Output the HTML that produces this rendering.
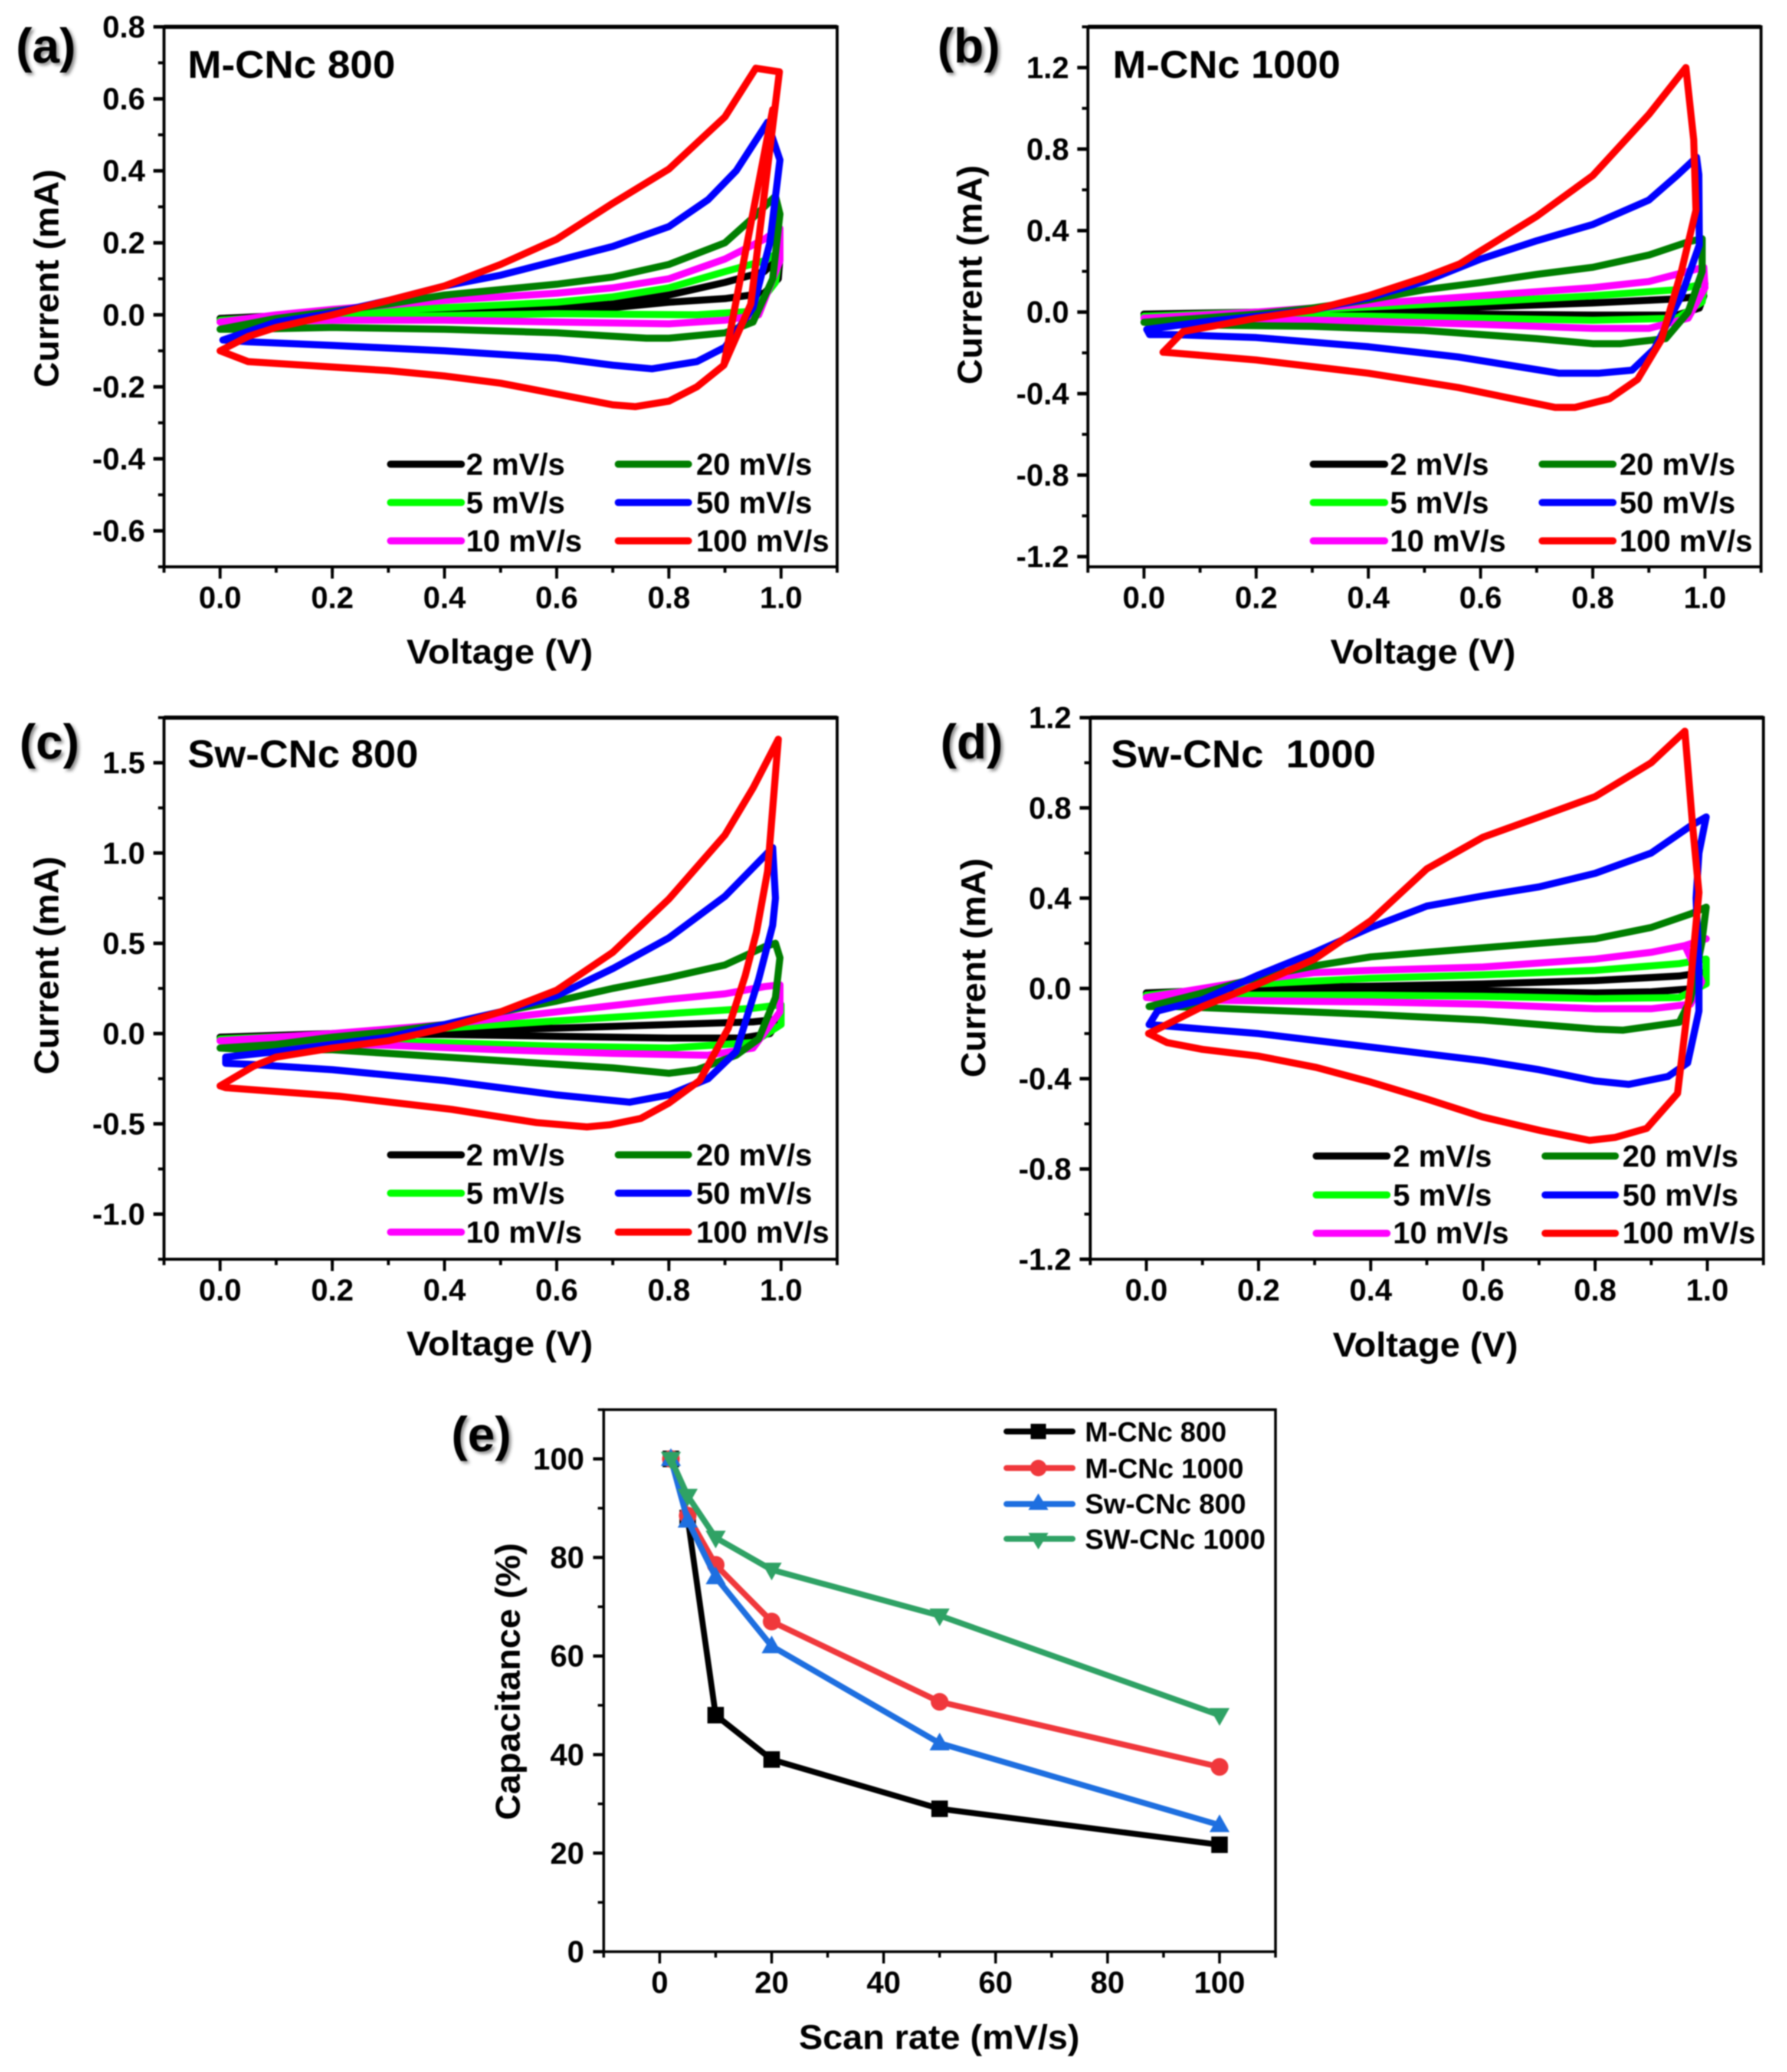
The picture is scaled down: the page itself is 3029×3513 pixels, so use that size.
<!DOCTYPE html>
<html>
<head>
<meta charset="utf-8">
<title>Cyclic voltammetry panels and capacitance retention</title>
<style>
html,body{margin:0;padding:0;background:#fff;}
body{width:3029px;height:3513px;overflow:hidden;}
svg{display:block;filter:blur(1px);}
text{font-family:"Liberation Sans",sans-serif;font-weight:bold;fill:#000;}
.pl{font-size:83px;filter:drop-shadow(4px 4px 3px rgba(0,0,0,.45));}
.pt{font-size:66px;}
.ax{font-size:58px;}
.lg{font-size:52px;}
.le{font-size:47px;}
.tk{font-size:52px;}
</style>
</head>
<body>
<svg id="fig" xmlns="http://www.w3.org/2000/svg" width="3029" height="3513" viewBox="0 0 3029 3513">
<rect x="0" y="0" width="3029" height="3513" fill="#fff"/>

<g id="panel-a">
<text class="pl" x="27" y="106">(a)</text>
<text class="pt" x="318" y="132" textLength="352" lengthAdjust="spacingAndGlyphs">M-CNc 800</text>
<text class="ax" x="689" y="1125" textLength="316" lengthAdjust="spacingAndGlyphs">Voltage (V)</text>
<text class="ax" transform="translate(99 472) rotate(-90)" text-anchor="middle" textLength="370" lengthAdjust="spacingAndGlyphs">Current (mA)</text>
<g>
<line x1="662" x2="782" y1="787" y2="787" stroke="#000" stroke-width="12" stroke-linecap="round"/>
<text class="lg" x="790" y="805">2 mV/s</text>
<line x1="662" x2="782" y1="852" y2="852" stroke="#00ff00" stroke-width="12" stroke-linecap="round"/>
<text class="lg" x="790" y="870">5 mV/s</text>
<line x1="662" x2="782" y1="917" y2="917" stroke="#ff00ff" stroke-width="12" stroke-linecap="round"/>
<text class="lg" x="790" y="935">10 mV/s</text>
<line x1="1048" x2="1167" y1="787" y2="787" stroke="#007f00" stroke-width="12" stroke-linecap="round"/>
<text class="lg" x="1180" y="805">20 mV/s</text>
<line x1="1048" x2="1167" y1="852" y2="852" stroke="#0000ff" stroke-width="12" stroke-linecap="round"/>
<text class="lg" x="1180" y="870">50 mV/s</text>
<line x1="1048" x2="1167" y1="917" y2="917" stroke="#ff0000" stroke-width="12" stroke-linecap="round"/>
<text class="lg" x="1180" y="935">100 mV/s</text>
</g>
</g>

<g id="panel-b">
<text class="pl" x="1589" y="106">(b)</text>
<text class="pt" x="1886" y="132" textLength="386" lengthAdjust="spacingAndGlyphs">M-CNc 1000</text>
<text class="ax" x="2255" y="1125" textLength="314" lengthAdjust="spacingAndGlyphs">Voltage (V)</text>
<text class="ax" transform="translate(1664 466) rotate(-90)" text-anchor="middle" textLength="372" lengthAdjust="spacingAndGlyphs">Current (mA)</text>
<g>
<line x1="2226" x2="2347" y1="787" y2="787" stroke="#000" stroke-width="12" stroke-linecap="round"/>
<text class="lg" x="2356" y="805">2 mV/s</text>
<line x1="2226" x2="2347" y1="852" y2="852" stroke="#00ff00" stroke-width="12" stroke-linecap="round"/>
<text class="lg" x="2356" y="870">5 mV/s</text>
<line x1="2226" x2="2347" y1="917" y2="917" stroke="#ff00ff" stroke-width="12" stroke-linecap="round"/>
<text class="lg" x="2356" y="935">10 mV/s</text>
<line x1="2614" x2="2734" y1="787" y2="787" stroke="#007f00" stroke-width="12" stroke-linecap="round"/>
<text class="lg" x="2745" y="805">20 mV/s</text>
<line x1="2614" x2="2734" y1="852" y2="852" stroke="#0000ff" stroke-width="12" stroke-linecap="round"/>
<text class="lg" x="2745" y="870">50 mV/s</text>
<line x1="2614" x2="2734" y1="917" y2="917" stroke="#ff0000" stroke-width="12" stroke-linecap="round"/>
<text class="lg" x="2745" y="935">100 mV/s</text>
</g>
</g>

<g id="panel-c">
<text class="pl" x="33" y="1286">(c)</text>
<text class="pt" x="318" y="1301" textLength="391" lengthAdjust="spacingAndGlyphs">Sw-CNc 800</text>
<text class="ax" x="689" y="2298" textLength="316" lengthAdjust="spacingAndGlyphs">Voltage (V)</text>
<text class="ax" transform="translate(99 1637) rotate(-90)" text-anchor="middle" textLength="370" lengthAdjust="spacingAndGlyphs">Current (mA)</text>
<g>
<line x1="662" x2="782" y1="1958" y2="1958" stroke="#000" stroke-width="12" stroke-linecap="round"/>
<text class="lg" x="790" y="1976">2 mV/s</text>
<line x1="662" x2="782" y1="2023" y2="2023" stroke="#00ff00" stroke-width="12" stroke-linecap="round"/>
<text class="lg" x="790" y="2041">5 mV/s</text>
<line x1="662" x2="782" y1="2089" y2="2089" stroke="#ff00ff" stroke-width="12" stroke-linecap="round"/>
<text class="lg" x="790" y="2107">10 mV/s</text>
<line x1="1048" x2="1167" y1="1958" y2="1958" stroke="#007f00" stroke-width="12" stroke-linecap="round"/>
<text class="lg" x="1180" y="1976">20 mV/s</text>
<line x1="1048" x2="1167" y1="2023" y2="2023" stroke="#0000ff" stroke-width="12" stroke-linecap="round"/>
<text class="lg" x="1180" y="2041">50 mV/s</text>
<line x1="1048" x2="1167" y1="2089" y2="2089" stroke="#ff0000" stroke-width="12" stroke-linecap="round"/>
<text class="lg" x="1180" y="2107">100 mV/s</text>
</g>
</g>

<g id="panel-d">
<text class="pl" x="1594" y="1286">(d)</text>
<text class="pt" x="1883" y="1301" textLength="449" lengthAdjust="spacingAndGlyphs" xml:space="preserve">Sw-CNc  1000</text>
<text class="ax" x="2259" y="2300" textLength="314" lengthAdjust="spacingAndGlyphs">Voltage (V)</text>
<text class="ax" transform="translate(1670 1641) rotate(-90)" text-anchor="middle" textLength="372" lengthAdjust="spacingAndGlyphs">Current (mA)</text>
<g>
<line x1="2231" x2="2351" y1="1960" y2="1960" stroke="#000" stroke-width="12" stroke-linecap="round"/>
<text class="lg" x="2361" y="1978">2 mV/s</text>
<line x1="2231" x2="2351" y1="2026" y2="2026" stroke="#00ff00" stroke-width="12" stroke-linecap="round"/>
<text class="lg" x="2361" y="2044">5 mV/s</text>
<line x1="2231" x2="2351" y1="2091" y2="2091" stroke="#ff00ff" stroke-width="12" stroke-linecap="round"/>
<text class="lg" x="2361" y="2108">10 mV/s</text>
<line x1="2619" x2="2738" y1="1960" y2="1960" stroke="#007f00" stroke-width="12" stroke-linecap="round"/>
<text class="lg" x="2750" y="1978">20 mV/s</text>
<line x1="2619" x2="2738" y1="2026" y2="2026" stroke="#0000ff" stroke-width="12" stroke-linecap="round"/>
<text class="lg" x="2750" y="2044">50 mV/s</text>
<line x1="2619" x2="2738" y1="2091" y2="2091" stroke="#ff0000" stroke-width="12" stroke-linecap="round"/>
<text class="lg" x="2750" y="2108">100 mV/s</text>
</g>
</g>

<g id="panel-e">
<text class="pl" x="765" y="2460">(e)</text>
<text class="ax" x="1354" y="3474" textLength="476" lengthAdjust="spacingAndGlyphs">Scan rate (mV/s)</text>
<text class="ax" transform="translate(881 2851) rotate(-90)" text-anchor="middle" textLength="470" lengthAdjust="spacingAndGlyphs">Capacitance (%)</text>
</g>
<g id="panel-e-legend">
<line x1="1706" x2="1818" y1="2427" y2="2427" stroke="#000" stroke-width="10" stroke-linecap="round"/>
<rect x="1747" y="2414" width="26" height="26" fill="#000"/>
<text class="le" x="1839" y="2444" textLength="240" lengthAdjust="spacingAndGlyphs">M-CNc 800</text>
<line x1="1706" x2="1818" y1="2489" y2="2489" stroke="#f0383c" stroke-width="10" stroke-linecap="round"/>
<circle cx="1760" cy="2489" r="14" fill="#f0383c"/>
<text class="le" x="1839" y="2506" textLength="269" lengthAdjust="spacingAndGlyphs">M-CNc 1000</text>
<line x1="1706" x2="1818" y1="2550" y2="2550" stroke="#1e6fe0" stroke-width="10" stroke-linecap="round"/>
<polygon points="1760,2532 1777,2560 1743,2560" fill="#1e6fe0"/>
<text class="le" x="1839" y="2566" textLength="273" lengthAdjust="spacingAndGlyphs">Sw-CNc 800</text>
<line x1="1706" x2="1818" y1="2609" y2="2609" stroke="#2fa265" stroke-width="10" stroke-linecap="round"/>
<polygon points="1743,2599 1777,2599 1760,2627" fill="#2fa265"/>
<text class="le" x="1839" y="2626" textLength="306" lengthAdjust="spacingAndGlyphs">SW-CNc 1000</text>
</g>
</svg>

<script>
// ---------- chart data: [voltage (V), current (mA)] loops ----------
const a2   = [[0,-.01],[.2,.003],[.4,.01],[.6,.02],[.7,.03],[.8,.055],[.9,.09],[.97,.12],[.998,.16],[.995,.1],[.97,.06],[.9,.045],[.8,.035],[.7,.02],[.5,.012],[.3,.005],[.1,-.003],[0,-.01]];
const a5   = [[0,-.015],[.2,.005],[.4,.02],[.6,.035],[.7,.05],[.8,.075],[.9,.12],[.97,.15],[.998,.175],[.99,.09],[.95,.01],[.85,0],[.6,.003],[.4,-.002],[.2,-.008],[0,-.015]];
const a10  = [[0,-.02],[.1,0],[.2,.015],[.4,.04],[.6,.06],[.7,.075],[.8,.1],[.9,.155],[.97,.21],[.998,.24],[.998,.15],[.96,0],[.9,-.015],[.8,-.025],[.6,-.02],[.4,-.015],[.2,-.015],[.05,-.02],[0,-.02]];
const a20  = [[0,-.04],[.1,-.01],[.2,.01],[.3,.03],[.4,.055],[.5,.07],[.6,.085],[.7,.105],[.8,.14],[.9,.2],[.95,.27],[.99,.33],[.998,.28],[.985,.1],[.95,-.02],[.9,-.05],[.8,-.065],[.76,-.065],[.6,-.05],[.4,-.04],[.2,-.035],[.05,-.04],[0,-.04]];
const a50  = [[.005,-.07],[.1,-.02],[.2,.005],[.3,.04],[.4,.08],[.5,.11],[.6,.15],[.7,.19],[.8,.245],[.87,.32],[.92,.4],[.976,.535],[.985,.49],[.998,.43],[.98,.2],[.95,.02],[.9,-.09],[.85,-.13],[.77,-.15],[.7,-.14],[.6,-.12],[.4,-.1],[.2,-.085],[.05,-.075],[.005,-.07]];
const a100 = [[0,-.1],[.05,-.06],[.1,-.035],[.2,0],[.3,.04],[.4,.08],[.5,.14],[.6,.21],[.7,.31],[.8,.405],[.9,.55],[.955,.685],[.997,.675],[.946,.03],[.898,-.14],[.985,.57],[.898,-.14],[.85,-.2],[.8,-.24],[.74,-.255],[.7,-.25],[.6,-.22],[.5,-.19],[.4,-.17],[.3,-.155],[.2,-.145],[.05,-.13],[0,-.1]];

const b2   = [[0,-.01],[.2,0],[.4,.01],[.6,.025],[.8,.045],[.95,.065],[.998,.08],[.99,.02],[.95,-.015],[.8,-.015],[.6,-.01],[.4,-.005],[.2,0],[0,-.01]];
const b5   = [[0,-.02],[.2,0],[.4,.025],[.6,.05],[.8,.08],[.95,.11],[1,.14],[.995,.05],[.95,-.03],[.8,-.04],[.6,-.03],[.4,-.02],[.2,-.015],[0,-.02]];
const b10  = [[0,-.03],[.2,0],[.4,.04],[.6,.08],[.8,.12],[.9,.15],[.97,.2],[.998,.22],[1,.12],[.97,-.03],[.9,-.08],[.8,-.08],[.6,-.06],[.4,-.045],[.2,-.035],[0,-.03]];
const b20  = [[0,-.05],[.1,-.03],[.2,-.01],[.3,.02],[.4,.06],[.5,.11],[.6,.145],[.7,.185],[.8,.22],[.9,.28],[.97,.345],[.995,.36],[.995,.2],[.97,0],[.93,-.13],[.85,-.155],[.8,-.155],[.7,-.13],[.5,-.09],[.3,-.07],[.15,-.065],[.05,-.06],[0,-.05]];
const b50  = [[.005,-.085],[.1,-.05],[.2,-.02],[.3,.01],[.4,.07],[.5,.15],[.6,.26],[.7,.35],[.8,.43],[.9,.55],[.95,.67],[.985,.76],[.989,.675],[.99,.33],[.958,.08],[.91,-.18],[.87,-.285],[.81,-.3],[.74,-.3],[.56,-.22],[.4,-.17],[.2,-.125],[.05,-.11],[.01,-.11],[.005,-.085]];
const b100 = [[.034,-.197],[.07,-.095],[.2,-.03],[.3,.01],[.4,.08],[.5,.17],[.563,.237],[.6,.3],[.7,.47],[.8,.67],[.9,.97],[.966,1.2],[.98,.845],[.984,.5],[.958,.2],[.922,-.137],[.88,-.33],[.83,-.425],[.768,-.468],[.733,-.468],[.56,-.37],[.4,-.3],[.2,-.235],[.05,-.2],[.034,-.197]];

const c2   = [[0,-.02],[.2,0],[.4,.015],[.6,.03],[.8,.05],[.95,.065],[.998,.08],[.98,0],[.93,-.025],[.8,-.025],[.6,-.015],[.4,-.005],[.2,-.005],[0,-.02]];
const c5   = [[0,-.03],[.2,-.005],[.4,.03],[.6,.07],[.8,.11],[.95,.14],[1,.16],[1,.05],[.95,-.05],[.8,-.08],[.6,-.07],[.4,-.05],[.2,-.035],[0,-.03]];
const c10  = [[0,-.04],[.2,0],[.4,.05],[.6,.12],[.8,.19],[.9,.22],[.97,.26],[.998,.27],[.998,.12],[.95,-.08],[.87,-.12],[.7,-.11],[.5,-.09],[.3,-.065],[.1,-.05],[0,-.04]];
const c20  = [[0,-.08],[.1,-.06],[.2,-.02],[.3,.01],[.4,.05],[.5,.12],[.6,.18],[.7,.25],[.8,.31],[.9,.38],[.97,.48],[.99,.5],[.998,.42],[.99,.2],[.96,-.03],[.92,-.12],[.85,-.2],[.8,-.22],[.7,-.19],[.5,-.15],[.3,-.11],[.2,-.09],[.05,-.09],[0,-.08]];
const c50  = [[.01,-.13],[.1,-.1],[.2,-.06],[.3,-.02],[.4,.05],[.5,.12],[.6,.21],[.7,.36],[.8,.53],[.9,.76],[.985,1.03],[.99,.75],[.985,.6],[.96,.3],[.92,-.1],[.87,-.25],[.8,-.34],[.73,-.38],[.6,-.34],[.4,-.26],[.2,-.2],[.05,-.17],[.01,-.165],[.01,-.13]];
const c100 = [[0,-.29],[.06,-.18],[.1,-.13],[.2,-.08],[.3,-.04],[.4,.03],[.5,.12],[.6,.24],[.7,.45],[.8,.745],[.9,1.1],[.95,1.36],[.995,1.63],[.976,.9],[.956,.56],[.936,.32],[.906,.03],[.855,-.26],[.8,-.385],[.75,-.47],[.695,-.505],[.654,-.517],[.564,-.493],[.413,-.42],[.212,-.347],[.01,-.3],[0,-.29]];

const d2   = [[0,-.02],[.2,0],[.4,.01],[.6,.02],[.8,.035],[.95,.055],[.99,.07],[.98,0],[.9,-.015],[.8,-.02],[.6,-.01],[.4,-.005],[.2,-.01],[0,-.02]];
const d5   = [[0,-.03],[.2,.02],[.4,.045],[.6,.06],[.8,.08],[.95,.11],[.998,.13],[.998,.02],[.95,-.04],[.8,-.045],[.6,-.035],[.4,-.03],[.2,-.03],[0,-.03]];
const d10  = [[0,-.04],[.1,0],[.2,.04],[.3,.07],[.4,.08],[.6,.095],[.8,.13],[.9,.16],[.96,.19],[.998,.22],[.96,.19],[.99,.03],[.97,-.07],[.9,-.09],[.8,-.09],[.6,-.07],[.4,-.06],[.2,-.055],[.05,-.05],[0,-.04]];
const d20  = [[.005,-.08],[.1,-.02],[.2,.05],[.3,.1],[.4,.14],[.5,.16],[.6,.18],[.7,.2],[.8,.22],[.9,.27],[.97,.33],[.998,.36],[.99,.2],[.97,-.05],[.95,-.15],[.85,-.185],[.8,-.18],[.6,-.14],[.4,-.115],[.2,-.095],[.05,-.08],[.005,-.08]];
const d50  = [[.005,-.16],[.02,-.1],[.1,-.05],[.2,.06],[.3,.16],[.4,.27],[.5,.365],[.6,.41],[.7,.45],[.8,.51],[.9,.6],[.97,.72],[.998,.76],[.985,.6],[.98,.4],[.985,.1],[.985,-.1],[.965,-.33],[.93,-.39],[.86,-.425],[.8,-.41],[.7,-.36],[.6,-.32],[.4,-.26],[.2,-.2],[.1,-.18],[.03,-.165],[.005,-.16]];
const d100 = [[.004,-.2],[.1,-.08],[.2,.02],[.3,.13],[.4,.3],[.5,.53],[.6,.67],[.7,.76],[.8,.85],[.9,1],[.96,1.14],[.974,.716],[.985,.425],[.97,.02],[.947,-.465],[.892,-.62],[.836,-.66],[.79,-.673],[.703,-.63],[.6,-.57],[.5,-.49],[.4,-.415],[.303,-.35],[.2,-.3],[.1,-.27],[.037,-.24],[.004,-.2]];

// capacitance retention
const scanRates = [2,5,10,20,50,100];
const mCnc800   = [100,88,48,39,29,21.7];
const mCnc1000  = [100,88.5,78.5,67,50.7,37.5];
const swCnc800  = [100,87.5,76,62,42.3,25.7];
const swCnc1000 = [100,92.5,84,77.5,68.2,48];

// tick values
const cvXTicks = [0,0.2,0.4,0.6,0.8,1.0];
const aYTicks  = [-0.6,-0.4,-0.2,0,0.2,0.4,0.6,0.8];
const bYTicks  = [-1.2,-0.8,-0.4,0,0.4,0.8,1.2];
const cYTicks  = [-1.0,-0.5,0,0.5,1.0,1.5];
const dYTicks  = [-1.2,-0.8,-0.4,0,0.4,0.8,1.2];
const eXTicks  = [0,20,40,60,80,100];
const eYTicks  = [0,20,40,60,80,100];

// ---------- drawing ----------
const NS = 'http://www.w3.org/2000/svg';
const seriesStyle = [
  {key:'2-mv-s', color:'#000000'},
  {key:'5-mv-s', color:'#00ff00'},
  {key:'10-mv-s', color:'#ff00ff'},
  {key:'20-mv-s', color:'#007f00'},
  {key:'50-mv-s', color:'#0000ff'},
  {key:'100-mv-s', color:'#ff0000'}
];

function make(tag, parent, name){
  const el = document.createElementNS(NS, tag);
  
  
  parent.appendChild(el);
  return el;
}
function scales(p){
  return {
    x: v => p.L + (v - p.xMin) / (p.xMax - p.xMin) * (p.R - p.L),
    y: v => p.B - (v - p.yMin) / (p.yMax - p.yMin) * (p.B - p.T)
  };
}
function tick(parent, name, x1, y1, x2, y2, w){
  const t = make('line', parent, name);
  t.setAttribute('x1', x1); t.setAttribute('y1', y1);
  t.setAttribute('x2', x2); t.setAttribute('y2', y2);
  t.setAttribute('stroke', '#000'); t.setAttribute('stroke-width', w);
}
function drawAxes(p, g){
  const s = scales(p);
  const axes = make('g', g, p.id + '-axes');
  for (let k = Math.ceil(p.xMin / p.xMinor - 1e-6); k <= Math.floor(p.xMax / p.xMinor + 1e-6); k++) {
    const x = s.x(k * p.xMinor);
    tick(axes, 'x-minor-tick', x, p.B, x, p.B + 10, p.tickW);
  }
  for (let k = Math.ceil(p.yMin / p.yMinor - 1e-6); k <= Math.floor(p.yMax / p.yMinor + 1e-6); k++) {
    const y = s.y(k * p.yMinor);
    tick(axes, 'y-minor-tick', p.L - 10, y, p.L, y, p.tickW);
  }
  p.xTicks.forEach(v => {
    const x = s.x(v);
    tick(axes, 'x-major-tick', x, p.B, x, p.B + 20, p.tickW);
    const t = make('text', axes, 'x-tick-label');
    t.setAttribute('class', 'tk');
    t.setAttribute('x', x);
    t.setAttribute('y', p.B + p.xLabelDy);
    t.setAttribute('text-anchor', 'middle');
    t.textContent = v.toFixed(p.xDigits);
  });
  p.yTicks.forEach(v => {
    const y = s.y(v);
    tick(axes, 'y-major-tick', p.L - 18, y, p.L, y, p.tickW + 1);
    const t = make('text', axes, 'y-tick-label');
    t.setAttribute('class', 'tk');
    t.setAttribute('x', p.L - p.yLabelDx);
    t.setAttribute('y', y + 18);
    t.setAttribute('text-anchor', 'end');
    t.textContent = v.toFixed(p.yDigits);
  });
  const frame = make('rect', axes, p.id + '-plot-frame');
  frame.setAttribute('x', p.L); frame.setAttribute('y', p.T);
  frame.setAttribute('width', p.R - p.L); frame.setAttribute('height', p.B - p.T);
  frame.setAttribute('fill', 'none'); frame.setAttribute('stroke', '#000'); frame.setAttribute('stroke-width', p.frameW);
  const top = make('line', axes, p.id + '-plot-frame-top');
  top.setAttribute('x1', p.L); top.setAttribute('x2', p.R);
  top.setAttribute('y1', p.T); top.setAttribute('y2', p.T);
  top.setAttribute('stroke', '#000'); top.setAttribute('stroke-width', p.topW);
}
function drawCV(p){
  const g = document.getElementById(p.id);
  const s = scales(p);
  const marks = make('g', g, p.id + '-curves');
  p.series.forEach((loop, i) => {
    const path = make('polyline', marks, p.id + '-curve-' + seriesStyle[i].key);
    path.setAttribute('points', loop.map(d => s.x(d[0]).toFixed(1) + ',' + s.y(d[1]).toFixed(1)).join(' '));
    path.setAttribute('fill', 'none');
    path.setAttribute('stroke', seriesStyle[i].color);
    path.setAttribute('stroke-width', 12);
    path.setAttribute('stroke-linejoin', 'round');
    path.setAttribute('stroke-linecap', 'round');
  });
  drawAxes(p, g);
}

const cvBase = {xMin:-0.1, xMax:1.1, xMinor:0.1, xTicks:cvXTicks, xDigits:1, yDigits:1, xLabelDy:70, yLabelDx:32, tickW:5, frameW:5, topW:7};
drawCV(Object.assign({}, cvBase, {id:'panel-a', L:278, R:1419, T:45.5, B:961, yMin:-0.7, yMax:0.8, yMinor:0.1, yTicks:aYTicks, series:[a2,a5,a10,a20,a50,a100]}));
drawCV(Object.assign({}, cvBase, {id:'panel-b', L:1844, R:2985, T:45.5, B:961, yMin:-1.25, yMax:1.4, yMinor:0.2, yTicks:bYTicks, series:[b2,b5,b10,b20,b50,b100]}));
drawCV(Object.assign({}, cvBase, {id:'panel-c', L:278, R:1419, T:1216.7, B:2135, yMin:-1.25, yMax:1.75, yMinor:0.25, yTicks:cYTicks, series:[c2,c5,c10,c20,c50,c100]}));
drawCV(Object.assign({}, cvBase, {id:'panel-d', L:1848, R:2989, T:1216.7, B:2135, yMin:-1.2, yMax:1.2, yMinor:0.2, yTicks:dYTicks, series:[d2,d5,d10,d20,d50,d100]}));

// panel e
(function(){
  const p = {id:'panel-e', L:1023.3, R:2162, T:2390, B:3309, xMin:-10, xMax:110, xMinor:10, yMin:0, yMax:110, yMinor:10,
             xTicks:eXTicks, yTicks:eYTicks, xDigits:0, yDigits:0, xLabelDy:70, yLabelDx:33, tickW:4.5, frameW:4.5, topW:4};
  const g = document.getElementById(p.id);
  const s = scales(p);
  drawAxes(p, g);
  const defs = [
    {key:'m-cnc-800', vals:mCnc800, color:'#000000', shape:'square'},
    {key:'m-cnc-1000', vals:mCnc1000, color:'#f0383c', shape:'circle'},
    {key:'sw-cnc-800', vals:swCnc800, color:'#1e6fe0', shape:'up'},
    {key:'sw-cnc-1000', vals:swCnc1000, color:'#2fa265', shape:'down'}
  ];
  defs.forEach(d => {
    const sg = make('g', g, 'series-' + d.key);
    const line = make('polyline', sg, 'line-' + d.key);
    line.setAttribute('points', scanRates.map((r, i) => s.x(r).toFixed(1) + ',' + s.y(d.vals[i]).toFixed(1)).join(' '));
    line.setAttribute('fill', 'none');
    line.setAttribute('stroke', d.color);
    line.setAttribute('stroke-width', 10);
    line.setAttribute('stroke-linejoin', 'round');
    scanRates.forEach((r, i) => {
      const x = s.x(r), y = s.y(d.vals[i]);
      let m;
      if (d.shape === 'square') {
        m = make('rect', sg, 'point-' + d.key);
        m.setAttribute('x', x - 14); m.setAttribute('y', y - 14);
        m.setAttribute('width', 28); m.setAttribute('height', 28);
      } else if (d.shape === 'circle') {
        m = make('circle', sg, 'point-' + d.key);
        m.setAttribute('cx', x); m.setAttribute('cy', y); m.setAttribute('r', 15);
      } else {
        const dir = d.shape === 'up' ? 1 : -1;
        m = make('polygon', sg, 'point-' + d.key);
        m.setAttribute('points', [[x, y - 18 * dir], [x + 17, y + 12 * dir], [x - 17, y + 12 * dir]].map(q => q.join(',')).join(' '));
      }
      m.setAttribute('fill', d.color);
    });
  });
})();
</script>
</body>
</html>
